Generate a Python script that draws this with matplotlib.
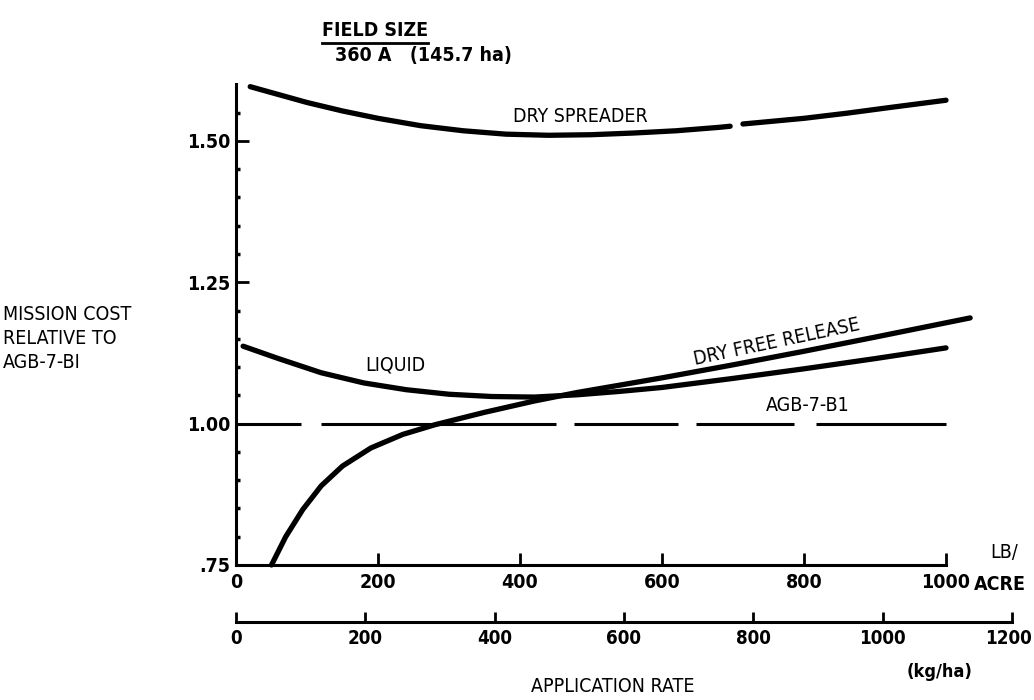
import matplotlib
matplotlib.use('Agg')
import matplotlib.pyplot as plt
from matplotlib.lines import Line2D
from matplotlib import font_manager
from matplotlib.transforms import ScaledTranslation

# ---------------- data ----------------
# application rate in LB/ACRE
DS_X1 = [20, 60, 100, 150, 200, 260, 320, 380, 440, 500, 560, 620, 680, 696]
DS_Y1 = [1.596, 1.582, 1.568, 1.553, 1.540, 1.527, 1.518, 1.512, 1.510, 1.511, 1.514, 1.518, 1.524, 1.526]
DS_X2 = [714, 740, 800, 860, 920, 1000]
DS_Y2 = [1.530, 1.533, 1.540, 1.549, 1.559, 1.572]

LIQ_X = [10, 60, 120, 180, 240, 300, 360, 420, 480, 540, 600, 700, 800, 900, 1000]
LIQ_Y = [1.137, 1.115, 1.090, 1.072, 1.060, 1.052, 1.048, 1.047, 1.051, 1.057, 1.064, 1.080, 1.097, 1.115, 1.134]

DFR_X = [50, 70, 94, 120, 150, 190, 235, 280, 350, 420, 480, 540, 600, 700, 800, 900, 1034]
DFR_Y = [0.75, 0.80, 0.848, 0.89, 0.925, 0.957, 0.981, 0.998, 1.020, 1.040, 1.055, 1.068, 1.081, 1.104, 1.128, 1.153, 1.187]

AGB_X = [0, 1000]
AGB_Y = [1.0, 1.0]

Y_MAJOR = [0.75, 1.00, 1.25, 1.50]
Y_LABELS = ['.75', '1.00', '1.25', '1.50']
Y_MINOR = [0.80, 0.85, 0.90, 0.95, 1.05, 1.10, 1.15, 1.20, 1.30, 1.35, 1.40, 1.45, 1.55]
X_LB_TICKS = [0, 200, 400, 600, 800, 1000]
X_KG_TICKS = [0, 200, 400, 600, 800, 1000, 1200]
KG_PER_LB = 1.098  # as drawn on the chart

# ---------------- style ----------------
names = {f.name for f in font_manager.fontManager.ttflist}
if 'Liberation Sans Narrow' in names:
    FAM = ['Liberation Sans Narrow', 'DejaVu Sans']
    STRETCH = 'normal'
else:
    FAM = ['DejaVu Sans']
    STRETCH = 'condensed'
plt.rcParams['font.family'] = FAM
plt.rcParams['font.stretch'] = STRETCH
plt.rcParams['lines.scale_dashes'] = False
W, H = 1034, 700
fig = plt.figure(figsize=(W / 100, H / 100), dpi=100)

PX_PER_LB = (946 - 236) / 1000.0
XMAX = 1120
Y0, Y1 = 0.75, 1.60
y_top_px = 424 - (Y1 - 1.0) * 566
left = 236 / W
bottom = (H - 565) / H
width = XMAX * PX_PER_LB / W
height = (565 - y_top_px) / H

ax = fig.add_axes([left, bottom, width, height])
ax.set_xlim(0, XMAX)
ax.set_ylim(Y0, Y1)
ax.patch.set_visible(False)
for s in ['top', 'right']:
    ax.spines[s].set_visible(False)
ax.spines['bottom'].set_bounds(0, 1000)
ax.spines['left'].set_bounds(Y0, Y1)
for s in ['bottom', 'left']:
    ax.spines[s].set_linewidth(2.2)

ax.set_yticks(Y_MAJOR)
ax.set_yticklabels(Y_LABELS)
ax.set_yticks(Y_MINOR, minor=True)
ax.tick_params(axis='y', which='major', direction='in', length=9, width=2, pad=4,
               labelsize=14)
ax.tick_params(axis='y', which='minor', direction='in', length=3, width=2.5)
ax.set_xticks(X_LB_TICKS)
ax.set_xticklabels([str(v) for v in X_LB_TICKS])
ax.tick_params(axis='x', which='major', direction='in', length=9, width=2, pad=6,
               labelsize=14)
for lbl in ax.get_yticklabels() + ax.get_xticklabels():
    lbl.set_fontweight('bold')

LW = 3.8
ax.plot(DS_X1, DS_Y1, color='k', lw=LW, solid_capstyle='round', clip_on=False)
ax.plot(DS_X2, DS_Y2, color='k', lw=LW, solid_capstyle='round', clip_on=False)
ax.plot(LIQ_X, LIQ_Y, color='k', lw=LW, solid_capstyle='round', clip_on=False)
ax.plot(DFR_X, DFR_Y, color='k', lw=LW, solid_capstyle='round', clip_on=False)
dash_px = [65, 20, 235, 18, 104, 18, 98, 22, 131, 300]
ax.plot(AGB_X, AGB_Y, color='k', lw=2.2, dashes=[d * 0.72 for d in dash_px],
        clip_on=False)

# second (kg/ha) axis
ax2 = fig.add_axes([left, (H - 622) / H, width, 1e-5])
ax2.set_xlim(0, XMAX * KG_PER_LB)
ax2.patch.set_visible(False)
for s in ['top', 'right', 'left']:
    ax2.spines[s].set_visible(False)
ax2.spines['bottom'].set_bounds(0, 1200)
ax2.spines['bottom'].set_linewidth(2.2)
ax2.set_yticks([])
ax2.set_xticks(X_KG_TICKS)
ax2.set_xticklabels([str(v) for v in X_KG_TICKS])
ax2.tick_params(axis='x', direction='in', length=7, width=2, pad=5, labelsize=13.5)
kg_labels = ax2.get_xticklabels()
for lbl in kg_labels:
    lbl.set_fontweight('bold')
# nudge the last label slightly left so it stays inside the canvas
kg_labels[-1].set_transform(kg_labels[-1].get_transform() +
                            ScaledTranslation(-4 / 100, 0, fig.dpi_scale_trans))

def ftext(x, y, s, **kw):
    return fig.text(x / W, 1 - y / H, s, **kw)

# annotations
FS = 14
ftext(580, 117, 'DRY SPREADER', ha='center', va='center', fontsize=FS)
ftext(395, 365, 'LIQUID', ha='center', va='center', fontsize=FS)
ftext(777, 342, 'DRY FREE RELEASE', ha='center', va='center', fontsize=FS, rotation=12)
ftext(808, 405, 'AGB-7-B1', ha='center', va='center', fontsize=FS)
ftext(3, 315, 'MISSION COST', ha='left', va='center', fontsize=FS)
ftext(3, 339, 'RELATIVE TO', ha='left', va='center', fontsize=FS)
ftext(3, 363, 'AGB-7-BI', ha='left', va='center', fontsize=FS)
ftext(1004, 553, 'LB/', ha='center', va='center', fontsize=FS)
ftext(1000, 585, 'ACRE', ha='center', va='center', fontsize=FS, fontweight='bold')
ftext(940, 672, '(kg/ha)', ha='center', va='center', fontsize=13, fontweight='bold')
ftext(613, 686, 'APPLICATION RATE', ha='center', va='center', fontsize=FS)
t_field = ftext(322, 30, 'FIELD SIZE', ha='left', va='center', fontsize=FS,
                fontweight='bold')
ftext(335, 56, '360 A   (145.7 ha)', ha='left', va='center', fontsize=FS,
      fontweight='bold')

fig.canvas.draw()
bb = t_field.get_window_extent()
fig.add_artist(Line2D([bb.x0 / W, bb.x1 / W], [(bb.y0 - 3) / H, (bb.y0 - 3) / H],
                      transform=fig.transFigure, color='k', lw=2))

fig.savefig('out.png', dpi=100, facecolor='white')
